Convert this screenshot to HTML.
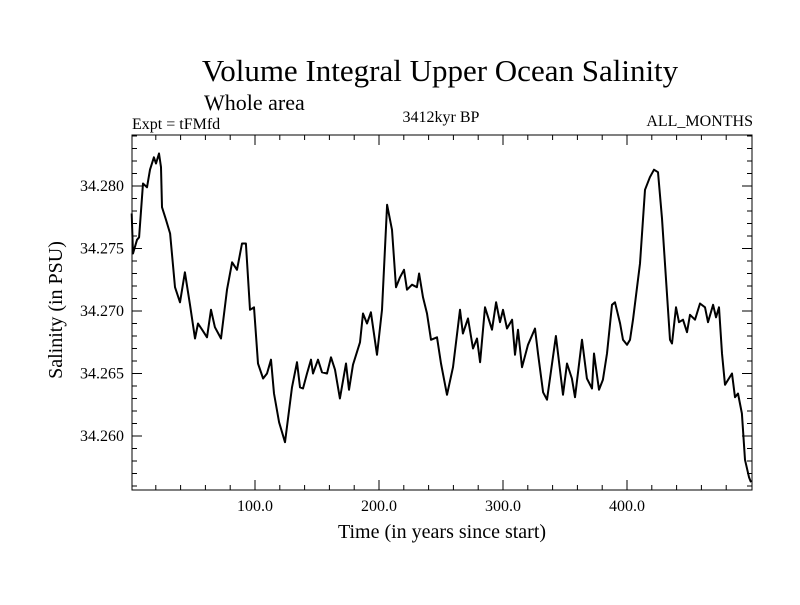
<!DOCTYPE html>
<html><head><meta charset="utf-8"><style>
body{margin:0;background:#fff}
svg text{font-family:"Liberation Serif",serif;fill:#000}
</style></head><body>
<svg width="800" height="600" id="chart">
<text x="440" y="81" font-size="31" text-anchor="middle">Volume Integral Upper Ocean Salinity</text>
<text x="204" y="110" font-size="22">Whole area</text>
<text x="132" y="129" font-size="16">Expt = tFMfd</text>
<text x="441" y="122" font-size="16" text-anchor="middle">3412kyr BP</text>
<text x="753" y="126" font-size="16" text-anchor="end">ALL_MONTHS</text>
<text x="442" y="538" font-size="20" text-anchor="middle">Time (in years since start)</text>
<text transform="translate(62,310) rotate(-90)" font-size="20" text-anchor="middle">Salinity (in PSU)</text>
<g id="axes"></g>
<path id="line" fill="none" stroke="#000" stroke-width="2" stroke-linejoin="round"/>
<rect x="132" y="135" width="620" height="355" fill="none" stroke="#000" stroke-width="1"/>
</svg>
<script>
const years=[0.6,1.6,4.8,6.5,9.7,12.9,15.3,18.5,20.2,22.6,24.2,25.0,28.2,31.5,35.5,39.5,43.5,47.6,51.6,54.0,57.3,61.3,64.5,67.7,72.6,77.4,81.5,85.5,89.5,92.7,96.0,99.2,102.4,106.5,109.7,112.9,115.3,119.4,124.2,129.8,133.9,136.3,138.7,141.9,145.2,146.8,150.8,154.0,158.1,161.3,164.5,168.5,173.4,175.8,179.0,184.7,187.1,190.3,193.5,198.4,202.4,206.5,210.5,213.7,216.9,220.2,222.6,226.6,230.6,232.3,235.5,238.7,241.9,246.8,250.0,254.8,259.7,265.3,267.7,271.8,275.8,279.0,281.5,285.5,291.1,294.4,297.6,300.0,303.2,307.3,309.7,312.1,315.3,320.2,325.8,328.2,332.3,335.5,342.7,348.4,351.6,355.6,358.1,363.7,367.7,371.8,373.4,377.4,380.6,383.9,387.9,390.3,394.4,396.8,400.0,402.4,404.8,410.5,414.5,418.5,421.8,425.0,428.2,434.7,436.3,439.5,441.9,445.2,448.4,450.8,454.8,458.9,462.9,465.3,469.4,471.8,474.2,476.6,479.0,484.7,487.1,489.5,492.7,495.2,498.4,500.0];
const salinity=[34.2778,34.2746,34.2757,34.2759,34.2802,34.2799,34.2813,34.2823,34.2818,34.2826,34.2815,34.2783,34.2773,34.2762,34.2719,34.2707,34.2731,34.2705,34.2678,34.2690,34.2685,34.2679,34.2701,34.2687,34.2678,34.2717,34.2739,34.2733,34.2754,34.2754,34.2701,34.2703,34.2658,34.2646,34.2650,34.2661,34.2634,34.2611,34.2595,34.2639,34.2659,34.2639,34.2638,34.2650,34.2661,34.2650,34.2661,34.2651,34.2650,34.2663,34.2653,34.2630,34.2658,34.2637,34.2657,34.2675,34.2698,34.2690,34.2699,34.2665,34.2701,34.2785,34.2765,34.2719,34.2727,34.2733,34.2717,34.2721,34.2719,34.2730,34.2711,34.2698,34.2677,34.2679,34.2658,34.2633,34.2655,34.2701,34.2682,34.2694,34.2670,34.2678,34.2659,34.2703,34.2685,34.2707,34.2691,34.2701,34.2686,34.2693,34.2665,34.2685,34.2655,34.2673,34.2686,34.2666,34.2635,34.2629,34.2680,34.2633,34.2658,34.2646,34.2631,34.2677,34.2646,34.2638,34.2666,34.2637,34.2645,34.2666,34.2705,34.2707,34.2690,34.2677,34.2673,34.2677,34.2693,34.2738,34.2797,34.2807,34.2813,34.2811,34.2774,34.2677,34.2674,34.2703,34.2691,34.2693,34.2683,34.2697,34.2693,34.2706,34.2703,34.2691,34.2705,34.2695,34.2703,34.2666,34.2641,34.2650,34.2631,34.2634,34.2618,34.2581,34.2567,34.2563];
const xTicks=[100,200,300,400];
const xTickLabels=["100.0","200.0","300.0","400.0"];
const yTicks=[34.260,34.265,34.270,34.275,34.280];
const yTickLabels=["34.260","34.265","34.270","34.275","34.280"];
const L=132,R=752,T=135,B=490;
const xs=v=>131+v*1.24;
const ys=v=>186-(v-34.280)*12500;
const NS='http://www.w3.org/2000/svg';
const g=document.getElementById('axes');
function ln(x1,y1,x2,y2,name){const e=document.createElementNS(NS,'line');e.setAttribute('x1',x1);e.setAttribute('y1',y1);e.setAttribute('x2',x2);e.setAttribute('y2',y2);e.setAttribute('stroke','#000');


g.appendChild(e);}
function tx(x,y,s,anchor,name){const e=document.createElementNS(NS,'text');e.setAttribute('x',x);e.setAttribute('y',y);e.setAttribute('font-size','16');e.setAttribute('text-anchor',anchor);e.textContent=s;


g.appendChild(e);}
for(let v=20;v<500;v+=20){const x=xs(v);const major=v%100===0;const len=major?10:5;ln(x,B,x,B-len,'x-tick');ln(x,T,x,T+len,'x-tick-top');}
xTicks.forEach((v,i)=>tx(xs(v),511,xTickLabels[i],'middle','x-tick-label'));
for(let i=0;i<=30;i++){const v=34.255+i*0.001;const y=ys(v);if(y<T||y>B)continue;const m=Math.round(v*1000)%5;const len=m===0?10:5;ln(L,y,L+len,y,'y-tick');ln(R,y,R-len,y,'y-tick-right');}
yTicks.forEach((v,i)=>tx(124,ys(v)+5,yTickLabels[i],'end','y-tick-label'));
let d='';years.forEach((yr,i)=>{d+=(i?'L':'M')+xs(yr).toFixed(1)+','+ys(salinity[i]).toFixed(1);});
document.getElementById('line').setAttribute('d',d);
</script>
</body></html>
